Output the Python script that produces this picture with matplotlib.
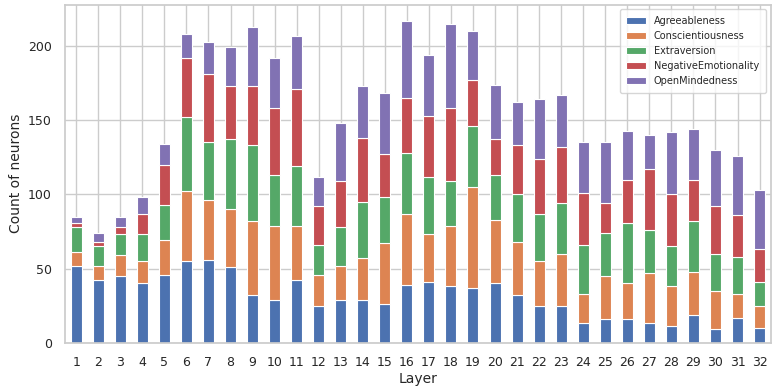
import pandas as pd
import matplotlib.pyplot as plt
import numpy as np
import seaborn as sns

sns.set_theme(style="whitegrid")

layers = list(range(1, 33))
agreeableness = [52, 42, 45, 40, 46, 55, 56, 51, 32, 29, 42, 25, 29, 29, 26, 39,
                 41, 38, 37, 40, 32, 25, 25, 13, 16, 16, 13, 11, 19, 9, 17, 10]
conscientiousness = [9, 10, 14, 15, 23, 47, 40, 39, 50, 50, 37, 21, 23, 28, 41, 48,
                     32, 41, 68, 43, 36, 30, 35, 20, 29, 24, 34, 27, 29, 26, 16, 15]
extraversion = [17, 13, 14, 18, 24, 50, 39, 47, 51, 34, 40, 20, 26, 38, 31, 41,
                39, 30, 41, 30, 32, 32, 34, 33, 29, 41, 29, 27, 34, 25, 25, 16]
negative_emotionality = [3, 3, 5, 14, 27, 40, 46, 36, 40, 45, 52, 26, 31, 43, 29, 37,
                         41, 49, 31, 24, 33, 37, 38, 35, 20, 29, 41, 35, 28, 32, 28, 22]
open_mindedness = [4, 6, 7, 11, 14, 16, 22, 26, 40, 34, 36, 20, 39, 35, 41, 52,
                   41, 57, 33, 37, 29, 40, 35, 34, 41, 33, 23, 42, 34, 38, 40, 40]

df = pd.DataFrame({
    "Agreeableness": agreeableness,
    "Conscientiousness": conscientiousness,
    "Extraversion": extraversion,
    "NegativeEmotionality": negative_emotionality,
    "OpenMindedness": open_mindedness,
}, index=layers)

fig, ax = plt.subplots(figsize=(7.76, 3.86), dpi=100)
df.plot(kind="bar", stacked=True, ax=ax, width=0.5, edgecolor="white", linewidth=0.8)
ax.set_xlabel("Layer", fontsize=10, labelpad=2)
ax.set_ylabel("Count of neurons", fontsize=10)
ax.tick_params(axis="x", rotation=0, labelsize=9)
ax.tick_params(axis="y", labelsize=9)
ax.legend(fontsize=7, loc="upper right", borderpad=0.7)

fig.subplots_adjust(left=0.084, right=0.993, top=0.988, bottom=0.112)
fig.savefig("out.png")
